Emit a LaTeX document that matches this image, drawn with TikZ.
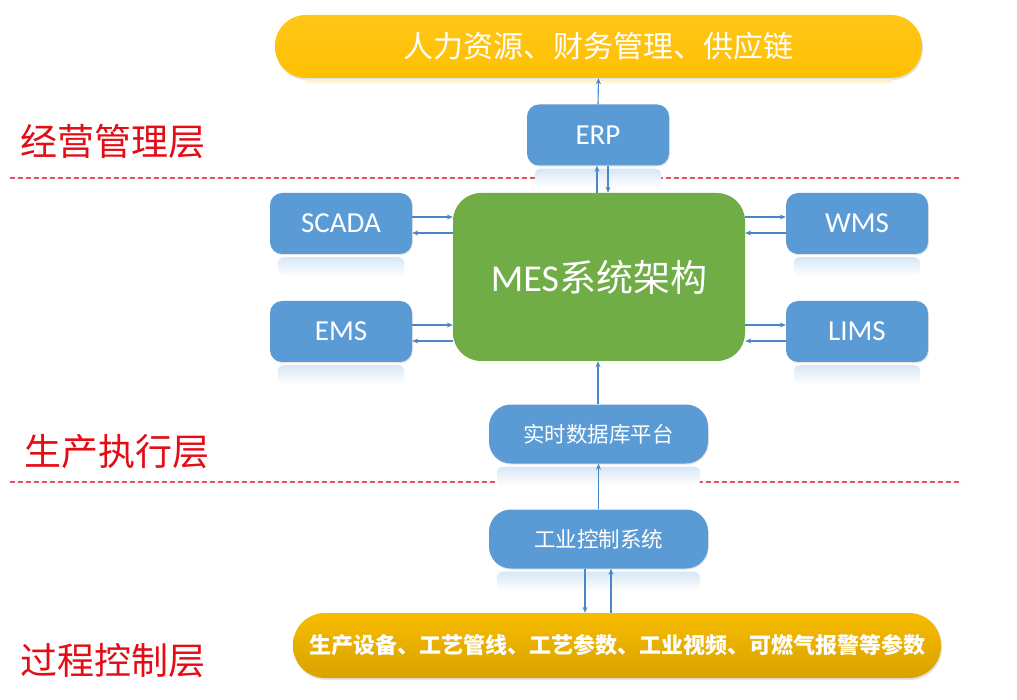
\documentclass[tikz,border=0pt]{standalone}
\usepackage{fontspec}
\setmainfont{Carlito}
\newfontfamily\cjk{Noto Sans CJK SC}
\usetikzlibrary{arrows.meta,calc,shadows}

\definecolor{boxblue}{HTML}{5B9BD5}
\definecolor{arrowblue}{HTML}{4A86C8}
\definecolor{mesgreen}{HTML}{70AD47}
\definecolor{topgold}{HTML}{FFC000}
\definecolor{lowgoldA}{HTML}{F7BC00}
\definecolor{lowgoldB}{HTML}{D9A200}
\definecolor{layerred}{HTML}{E40D16}
\definecolor{sepred}{HTML}{E0505F}

\tikzset{
  sysbox/.style={fill=boxblue, draw=none, text=white, rounded corners=12pt,
    minimum width=142pt, minimum height=61pt, font=\fontsize{29}{32}\selectfont,
    drop shadow={shadow xshift=0.8pt, shadow yshift=-1.2pt, opacity=0.2}},
  platbox/.style={fill=boxblue, draw=none, text=white, rounded corners=22pt,
    minimum width=219pt, minimum height=59pt, font=\cjk\fontsize{21.5}{24}\selectfont,
    drop shadow={shadow xshift=0.8pt, shadow yshift=-1.2pt, opacity=0.2}},
  pill/.style={draw=none, text=white, rounded corners=31pt,
    drop shadow={shadow xshift=1pt, shadow yshift=-2pt, opacity=0.22}},
  layerlabel/.style={text=layerred, font=\cjk\fontsize{37}{42}\selectfont},
  sepline/.style={draw=sepred, line width=1.4pt, dash pattern=on 5pt off 3pt},
  flow/.style={draw=arrowblue, line width=1.1pt,
    -{Stealth[length=6pt,width=5pt]}},
}

\begin{document}
\begin{tikzpicture}[x=1pt,y=-1pt]
\useasboundingbox (0,0) rectangle (1017,700);
\fill[white] (0,0) rectangle (1017,700);

% layer separators
\coordinate (sepAl) at (10,178);   \coordinate (sepAr) at (962,178);
\coordinate (sepBl) at (10,482);   \coordinate (sepBr) at (962,482);
\draw[sepline] (sepAl) -- (sepAr);
\draw[sepline] (sepBl) -- (sepBr);

% layer names
\node[layerlabel] (lay1) at (113,142) {经营管理层};
\node[layerlabel] (lay2) at (117,452) {生产执行层};
\node[layerlabel] (lay3) at (113,661) {过程控制层};

% enterprise resources
\node[pill, top color=topgold!90!white, bottom color=topgold,
      minimum width=647pt, minimum height=63pt,
      font=\cjk\fontsize{30}{33}\selectfont] (res) at (598.5,46.5)
      {人力资源、财务管理、供应链};

% systems
\node[sysbox] (erp)   at (598,135)   {ERP};
\node[sysbox] (scada) at (341,223.5) {SCADA};
\node[sysbox] (wms)   at (857,223.5) {WMS};
\node[sysbox] (ems)   at (341,331.5) {EMS};
\node[sysbox] (lims)  at (857,331.5) {LIMS};

\node[fill=mesgreen, draw=none, text=white, rounded corners=28pt,
      minimum width=292pt, minimum height=168pt,
      font=\fontsize{38}{42}\selectfont] (mes) at (599,277)
      {MES{\cjk\fontsize{37}{42}\selectfont 系统架构}};

\node[platbox] (rtdb) at (598.5,434) {实时数据库平台};
\node[platbox] (ics)  at (598.5,539) {工业控制系统};

% field layer
\node[pill, top color=lowgoldA, bottom color=lowgoldB, rounded corners=32pt,
      minimum width=648pt, minimum height=65pt,
      font=\cjk\bfseries\fontsize{22}{26}\selectfont] (field) at (617,645.5)
      {生产设备、工艺管线、工艺参数、工业视频、可燃气报警等参数};

% soft reflections under the blue boxes
\foreach \n in {erp,scada,wms,ems,lims,rtdb,ics}{
  \shade[top color=boxblue!24, bottom color=white, rounded corners=6pt]
    ($(\n.south west)+(8,3)$) rectangle ($(\n.south east)+(-8,22)$);
}
\shade[top color=topgold!25, bottom color=white]
  ($(res.south west)+(30,1)$) rectangle ($(res.south east)+(-30,6)$);

% connectors
\draw[flow] (erp.north) -- (res.south);
\draw[flow] (mes.north -| 597,0) -- (erp.south -| 597,0);
\draw[flow] (erp.south -| 608,0) -- (mes.north -| 608,0);

\draw[flow] (scada.east |- 0,217) -- (mes.west |- 0,217);
\draw[flow] (mes.west |- 0,233)   -- (scada.east |- 0,233);
\draw[flow] (ems.east |- 0,325)   -- (mes.west |- 0,325);
\draw[flow] (mes.west |- 0,341)   -- (ems.east |- 0,341);

\draw[flow] (mes.east |- 0,217)  -- (wms.west |- 0,217);
\draw[flow] (wms.west |- 0,233)  -- (mes.east |- 0,233);
\draw[flow] (mes.east |- 0,325)  -- (lims.west |- 0,325);
\draw[flow] (lims.west |- 0,341) -- (mes.east |- 0,341);

\draw[flow] (rtdb.north -| 598,0) -- (mes.south -| 598,0);
\draw[flow] (ics.north) -- (rtdb.south);
\draw[flow] (ics.south -| 585,0) -- (field.north -| 585,0);
\draw[flow] (field.north -| 611,0) -- (ics.south -| 611,0);
\end{tikzpicture}
\end{document}
